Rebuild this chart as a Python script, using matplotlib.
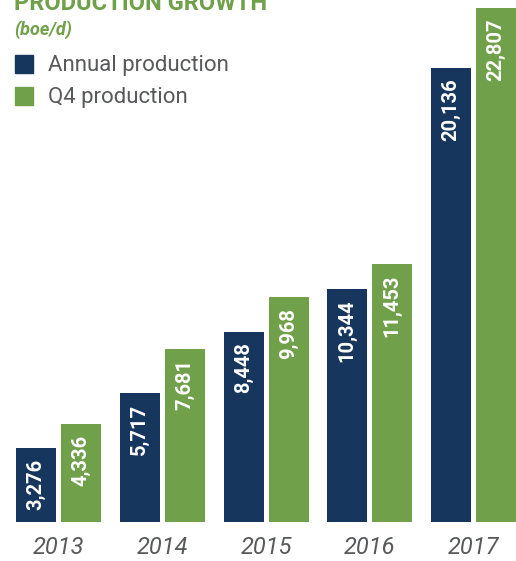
import matplotlib
matplotlib.use("Agg")
import matplotlib.pyplot as plt
from matplotlib.patches import Rectangle

years = ["2013", "2014", "2015", "2016", "2017"]
annual = [3276, 5717, 8448, 10344, 20136]
q4 = [4336, 7681, 9968, 11453, 22807]

NAVY = "#17365d"
GREEN = "#70a04a"
GRAY = "#58595b"
FONT = ["Roboto", "DejaVu Sans"]

W, H = 516, 561
fig = plt.figure(figsize=(W / 100, H / 100), dpi=100)

def fy(py):
    return 1 - py / H

def fx(px):
    return px / W

pitch = 103.75
g0 = 58.5
ax = fig.add_axes([0, fy(522), 1, fy(0) - fy(522)])
ax.set_xlim(-g0 / pitch, (W - g0) / pitch)
px_per_unit = 514 / 22807
ax.set_ylim(0, 522 / px_per_unit)
ax.axis("off")

bw = 40 / pitch
off = 22.5 / pitch
xs = list(range(len(years)))
b1 = ax.bar([x - off for x in xs], annual, width=bw, color=NAVY)
b2 = ax.bar([x + off for x in xs], q4, width=bw, color=GREEN)

for bars, vals in ((b1, annual), (b2, q4)):
    for rect, v in zip(bars, vals):
        ax.annotate(f"{v:,}", (rect.get_x() + rect.get_width() / 2, rect.get_height()),
                    xytext=(0, -7.5), textcoords="offset points", rotation=90,
                    ha="center", va="top", color="white", fontsize=14.5,
                    fontweight="bold", family=FONT)

for x, y in zip(xs, years):
    ax.annotate(y, (x, 0), xytext=(0, -18.5), textcoords="offset points",
                ha="center", va="center", color=GRAY, fontsize=17,
                style="italic", family=FONT)

# title (cut off at top as in reference)
fig.text(fx(14), fy(10), "PRODUCTION GROWTH", color=GREEN, fontsize=17,
         fontweight="bold", family=FONT, ha="left", va="baseline")
fig.text(fx(14), fy(30), "(boe/d)", color=GREEN, fontsize=13,
         fontweight="bold", style="italic", family=FONT, ha="left", va="center")

# legend
for i, (lab, col) in enumerate((("Annual production", NAVY), ("Q4 production", GREEN))):
    cy = 64 + i * 32
    fig.patches.append(Rectangle((fx(15), fy(cy + 9)), 18 / W, 18 / H,
                                 transform=fig.transFigure, color=col))
    fig.text(fx(48), fy(cy + 2), lab, color=GRAY, fontsize=16, family=FONT,
             ha="left", va="center")

fig.savefig("out.png", dpi=100)
